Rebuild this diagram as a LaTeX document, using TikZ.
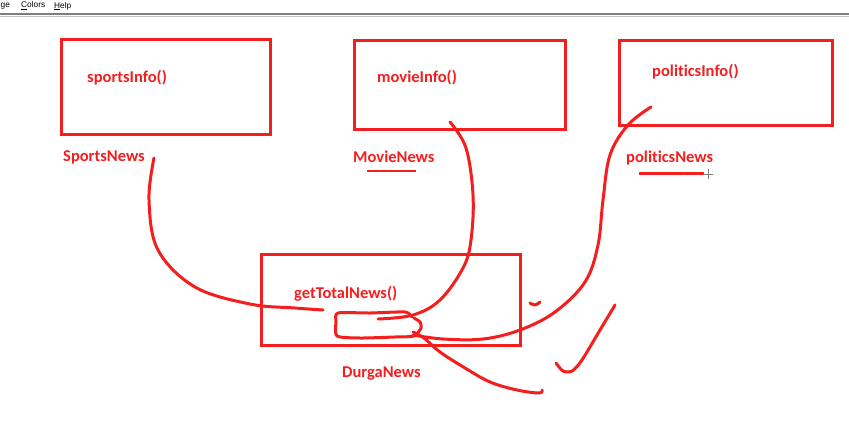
\documentclass[tikz,border=0pt]{standalone}
\usepackage{fontspec}
\setmainfont{Carlito}[Ligatures=NoCommon]
\newfontfamily\menufont{Liberation Sans}
\definecolor{paintred}{RGB}{245,30,30}
\definecolor{menugray}{RGB}{125,125,125}
\begin{document}
\begin{tikzpicture}[x=1pt,y=-1pt,
  box/.style={draw=paintred, line width=3pt, minimum width=#1, inner sep=0pt},
  lbl/.style={text=paintred, font=\fontsize{16.5}{18}\selectfont\bfseries, inner sep=0pt, anchor=west},
  ink/.style={draw=paintred, line width=3pt, line cap=round, line join=round},
  menu/.style={font=\menufont\fontsize{8.3}{9}\selectfont, inner sep=0pt, anchor=west}]
\useasboundingbox[fill=white] (0,0) rectangle (849,426);
% menu bar
\node[menu] (m1) at (0.5,6) {ge};
\node[menu] (m2) at (21,6) {\underline{C}olors};
\node[menu] (m3) at (54,6) {\underline{H}elp};
\coordinate (ml) at (0,14);
\coordinate (mr) at (849,14);
\draw[menugray, line width=2.5pt] (ml) -- (mr);
\draw[black!25, line width=0.8pt] (0,16) -- (849,16);
% boxes
\node[box=209pt, minimum height=95pt] (sb) at (166,87) {};
\node[box=211pt, minimum height=89pt] (mb) at (460,85) {};
\node[box=213pt, minimum height=85pt] (pb) at (726,83) {};
\node[box=259pt, minimum height=91pt] (db) at (391,300) {};
% labels
\node[lbl] (si) at (87,78) {sportsInfo()};
\node[lbl] (sn) at (63,157) {SportsNews};
\node[lbl] (mi) at (377,78) {movieInfo()};
\node[lbl] (mn) at (353,157) {MovieNews};
\node[lbl] (pi) at (652,72) {politicsInfo()};
\node[lbl] (pn) at (626,158) {politicsNews};
\node[lbl] (gt) at (294,294) {getTotalNews()};
\node[lbl] (dn) at (342,374) {DurgaNews};
% underlines
\coordinate (mu1) at (367,171); \coordinate (mu2) at (416,171);
\draw[paintred, line width=2.5pt] (mu1) -- (mu2);
\coordinate (pu1) at (639,173.5); \coordinate (pu2) at (704,173.5);
\draw[paintred, line width=2.5pt] (pu1) -- (pu2);
% cursor
\coordinate (cur) at (708,174);
\draw[gray, line width=0.6pt] ([xshift=-5pt]cur) -- ([xshift=5pt]cur) ([yshift=-5pt]cur) -- ([yshift=5pt]cur);
% sports curve
\draw[ink] plot[smooth, tension=0.6] coordinates {(154,158) (149,200) (158,250) (195,287) (250,304) (295,308) (323,310)};
% movie curve
\draw[ink] plot[smooth, tension=0.6] coordinates {(450,122) (466,148) (473,195) (471,240) (463,268) (440,300) (413,315) (378,319)};
% loop
\draw[ink] plot[smooth, tension=0.4] coordinates {(412,317) (405,312) (370,313) (338,313) (336,322) (337,336) (360,338) (395,337) (414,336) (421,328) (420,322) (414,318)};
% politics curve
\draw[ink] plot[smooth, tension=0.6] coordinates {(651,107) (628,125) (610,155) (603,200) (598,245) (585,282) (555,312) (520,330) (483,339) (443,339) (413,335)};
% curve to bottom right
\draw[ink] plot[smooth, tension=0.6] coordinates {(413,332) (424,338) (440,352) (465,368) (490,382) (517,390) (539,393) (542,390)};
% small mark
\draw[ink] plot[smooth, tension=0.6] coordinates {(530,303) (535,305) (540,302)};
% check mark
\draw[ink] plot[smooth, tension=0.5] coordinates {(556,363) (563,371) (572,371) (582,360) (600,330) (615,305)};
\end{tikzpicture}
\end{document}
